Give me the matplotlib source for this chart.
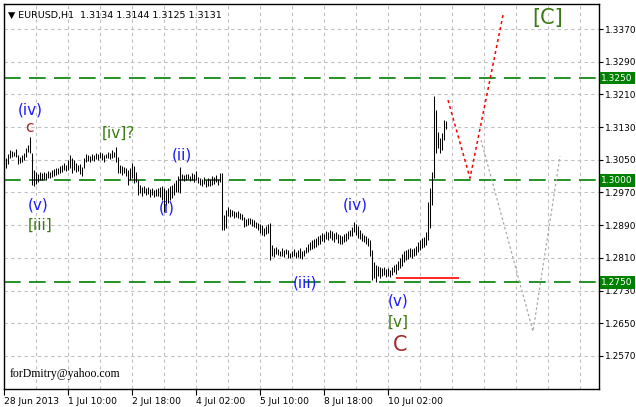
import numpy as np
import matplotlib.pyplot as plt
import matplotlib.transforms as mtransforms

# EURUSD H1 bars, 28 Jun 2013 02:00 onwards (bar index 1..221)
highs = [
    1.3054, 1.3064, 1.3074, 1.3071, 1.3069, 1.3076, 1.3061, 1.3056, 1.3061, 1.3066,
    1.3078, 1.3086, 1.3105, 1.3066, 1.3025, 1.3020, 1.3015, 1.3020, 1.3017, 1.3020,
    1.3017, 1.3022, 1.3020, 1.3025, 1.3027, 1.3029, 1.3029, 1.3034, 1.3037, 1.3042,
    1.3037, 1.3049, 1.3061, 1.3054, 1.3049, 1.3042, 1.3037, 1.3039, 1.3032, 1.3054,
    1.3064, 1.3061, 1.3059, 1.3064, 1.3061, 1.3066, 1.3064, 1.3069, 1.3066, 1.3061,
    1.3064, 1.3069, 1.3066, 1.3074, 1.3069, 1.3081, 1.3056, 1.3037, 1.3034, 1.3032,
    1.3029, 1.3025, 1.3029, 1.3042, 1.3034, 1.3020, 1.3000, 1.2988, 1.2983, 1.2985,
    1.2981, 1.2983, 1.2978, 1.2981, 1.2976, 1.2978, 1.2981, 1.2983, 1.2985, 1.2981,
    1.2976, 1.2981, 1.2985, 1.2988, 1.2993, 1.3000, 1.3010, 1.3032, 1.3015, 1.3012,
    1.3015, 1.3015, 1.3010, 1.3017, 1.3015, 1.3022, 1.3007, 1.3005, 1.3002, 1.3007,
    1.3000, 1.3005, 1.3002, 1.3010, 1.3007, 1.3012, 1.3002, 1.3017, 1.3017, 1.2915,
    1.2927, 1.2934, 1.2929, 1.2927, 1.2924, 1.2922, 1.2924, 1.2919, 1.2917, 1.2910,
    1.2905, 1.2907, 1.2907, 1.2905, 1.2902, 1.2897, 1.2895, 1.2893, 1.2890, 1.2883,
    1.2888, 1.2893, 1.2895, 1.2841, 1.2834, 1.2837, 1.2832, 1.2827, 1.2834, 1.2829,
    1.2832, 1.2829, 1.2822, 1.2827, 1.2832, 1.2824, 1.2829, 1.2834, 1.2827, 1.2829,
    1.2837, 1.2844, 1.2849, 1.2854, 1.2856, 1.2858, 1.2863, 1.2866, 1.2871, 1.2868,
    1.2876, 1.2873, 1.2878, 1.2876, 1.2871, 1.2873, 1.2868, 1.2866, 1.2863, 1.2868,
    1.2871, 1.2876, 1.2878, 1.2885, 1.2897, 1.2893, 1.2888, 1.2878, 1.2871, 1.2866,
    1.2863, 1.2858, 1.2854, 1.2829, 1.2800, 1.2793, 1.2790, 1.2788, 1.2785, 1.2788,
    1.2783, 1.2785, 1.2780, 1.2788, 1.2793, 1.2795, 1.2802, 1.2810, 1.2820, 1.2827,
    1.2829, 1.2832, 1.2834, 1.2832, 1.2834, 1.2839, 1.2849, 1.2854, 1.2858, 1.2861,
    1.2873, 1.2946, 1.2981, 1.3020, 1.3206, 1.3172, 1.3118, 1.3103, 1.3115, 1.3147,
    1.3144,
]
lows = [
    1.3029, 1.3039, 1.3054, 1.3056, 1.3059, 1.3056, 1.3039, 1.3042, 1.3044, 1.3049,
    1.3056, 1.3069, 1.3066, 1.2988, 1.2985, 1.2990, 1.2995, 1.3000, 1.3000, 1.3002,
    1.3000, 1.3005, 1.3005, 1.3007, 1.3010, 1.3012, 1.3015, 1.3017, 1.3020, 1.3025,
    1.3022, 1.3025, 1.3029, 1.3017, 1.3025, 1.3020, 1.3022, 1.3015, 1.3010, 1.3029,
    1.3044, 1.3047, 1.3044, 1.3049, 1.3047, 1.3052, 1.3049, 1.3054, 1.3049, 1.3044,
    1.3054, 1.3054, 1.3052, 1.3054, 1.3056, 1.3044, 1.3017, 1.3017, 1.3012, 1.3017,
    1.3010, 1.2988, 1.3000, 1.3005, 1.2993, 1.2995, 1.2963, 1.2968, 1.2961, 1.2968,
    1.2963, 1.2966, 1.2959, 1.2963, 1.2959, 1.2961, 1.2961, 1.2959, 1.2951, 1.2922,
    1.2939, 1.2944, 1.2951, 1.2956, 1.2963, 1.2971, 1.2971, 1.2968, 1.3000, 1.2998,
    1.3000, 1.3002, 1.2998, 1.3000, 1.2995, 1.3000, 1.2993, 1.2988, 1.2985, 1.2990,
    1.2983, 1.2985, 1.2985, 1.2988, 1.2990, 1.2995, 1.2988, 1.2995, 1.2878, 1.2878,
    1.2883, 1.2912, 1.2910, 1.2912, 1.2907, 1.2910, 1.2907, 1.2905, 1.2902, 1.2885,
    1.2888, 1.2890, 1.2893, 1.2888, 1.2885, 1.2883, 1.2878, 1.2871, 1.2866, 1.2863,
    1.2868, 1.2871, 1.2805, 1.2815, 1.2812, 1.2820, 1.2817, 1.2815, 1.2815, 1.2812,
    1.2820, 1.2810, 1.2810, 1.2812, 1.2815, 1.2810, 1.2812, 1.2810, 1.2807, 1.2815,
    1.2822, 1.2824, 1.2829, 1.2832, 1.2834, 1.2837, 1.2841, 1.2844, 1.2851, 1.2849,
    1.2856, 1.2854, 1.2858, 1.2854, 1.2849, 1.2856, 1.2846, 1.2844, 1.2844, 1.2849,
    1.2851, 1.2856, 1.2863, 1.2863, 1.2873, 1.2866, 1.2858, 1.2856, 1.2851, 1.2849,
    1.2844, 1.2839, 1.2815, 1.2756, 1.2761, 1.2751, 1.2766, 1.2761, 1.2766, 1.2768,
    1.2763, 1.2766, 1.2763, 1.2768, 1.2776, 1.2771, 1.2780, 1.2785, 1.2790, 1.2800,
    1.2805, 1.2807, 1.2812, 1.2810, 1.2815, 1.2817, 1.2824, 1.2829, 1.2834, 1.2837,
    1.2841, 1.2854, 1.2883, 1.2939, 1.3005, 1.3066, 1.3078, 1.3066, 1.3074, 1.3098,
    1.3125,
]
bar_idx = np.arange(1, len(highs) + 1)

# axis labels
y_ticks = [1.2570, 1.2650, 1.2730, 1.2810, 1.2890, 1.2970, 1.3050, 1.3130, 1.3210, 1.3290, 1.3370]
x_tick_pos = [0, 32, 64, 96, 128, 160, 192]
x_tick_labels = ['28 Jun 2013', '1 Jul 10:00', '2 Jul 18:00', '4 Jul 02:00',
                 '5 Jul 10:00', '8 Jul 18:00', '10 Jul 02:00']
x_grid = list(range(16, 297, 16))

# horizontal levels
levels = [1.3250, 1.3000, 1.2750]
support_line = (196, 227.5, 1.2761)

# projected paths (bar index, price)
red_path_x = [222, 233, 249.5]
red_path_y = [1.3196, 1.3005, 1.3404]
gray_path_x = [238.5, 264.5, 278]
gray_path_y = [1.3098, 1.2630, 1.3059]

# wave labels: text, bar, price, colour, size
blue = '#1a1aff'
green = '#3a7a10'
brown = '#a52a2a'
wave_labels = [
    ('(iv)', 13, 1.3172, blue, 11),
    ('c', 12.5, 1.3128, brown, 11),
    ('[iv]?', 57, 1.3115, green, 11),
    ('(v)', 17, 1.2939, blue, 11),
    ('[iii]', 18, 1.2890, green, 11),
    ('(ii)', 89, 1.3061, blue, 11),
    ('(i)', 81.5, 1.2932, blue, 11),
    ('(iii)', 150.5, 1.2749, blue, 11),
    ('(iv)', 175.5, 1.2939, blue, 11),
    ('(v)', 197, 1.2704, blue, 11),
    ('[v]', 197, 1.2652, green, 11),
    ('C', 198, 1.2596, brown, 15),
    ('[C]', 272, 1.3397, green, 15),
]

fig = plt.figure(figsize=(6.36, 4.07), dpi=100)
ax = fig.add_axes([4 / 636, 1 - 389 / 407, 595 / 636, 385 / 407])
ax.set_xlim(0, 297.5)
ax.set_ylim(1.24891, 1.34312)

grid_kw = dict(color='#c0c0c0', lw=0.8, linestyle=(0, (3, 3)), zorder=0)
for y in y_ticks:
    ax.axhline(y, **grid_kw)
for x in x_grid:
    ax.axvline(x, **grid_kw)

for lv in levels:
    ax.axhline(lv, color='#008000', lw=1.2, linestyle=(0, (10, 5)), zorder=1)
    ax.text(1.004, lv, '%.4f' % lv, transform=mtransforms.blended_transform_factory(ax.transAxes, ax.transData),
            color='white', fontsize=6.5, ha='left', va='center', clip_on=False, zorder=5,
            bbox=dict(facecolor='#008000', edgecolor='none', pad=1.3))

ax.vlines(bar_idx, lows, highs, color='black', lw=0.75, zorder=3)

ax.hlines(support_line[2], support_line[0], support_line[1], color='red', lw=1.2, zorder=3)
ax.plot(red_path_x, red_path_y, color='red', lw=1.1, linestyle=(0, (2, 2)), zorder=3)
ax.plot(gray_path_x, gray_path_y, color='#a8a8a8', lw=0.9, linestyle=(0, (2, 2)), zorder=2)

for txt, bx, py, col, fs in wave_labels:
    ax.text(bx, py, txt, color=col, fontsize=fs, ha='center', va='center', zorder=4)

ax.text(0.007, 0.983, '\u25bc EURUSD,H1  1.3134 1.3144 1.3125 1.3131', transform=ax.transAxes,
        fontsize=6.8, ha='left', va='top')
ax.text(0.01, 0.04, 'forDmitry@yahoo.com', transform=ax.transAxes, fontsize=8.5,
        family='Liberation Serif', ha='left', va='center')

ax.yaxis.tick_right()
ax.set_yticks(y_ticks)
ax.set_yticklabels(['%.4f' % v for v in y_ticks], fontsize=6.5)
ax.tick_params(axis='y', direction='out', length=3, width=0.8, pad=1)
ax.set_xticks(x_tick_pos)
ax.set_xticklabels(x_tick_labels, fontsize=6.6, ha='left')
ax.tick_params(axis='x', direction='out', length=4, width=0.8, pad=1.5)
for sp in ax.spines.values():
    sp.set_linewidth(1.0)

fig.savefig('out.png', dpi=100)
